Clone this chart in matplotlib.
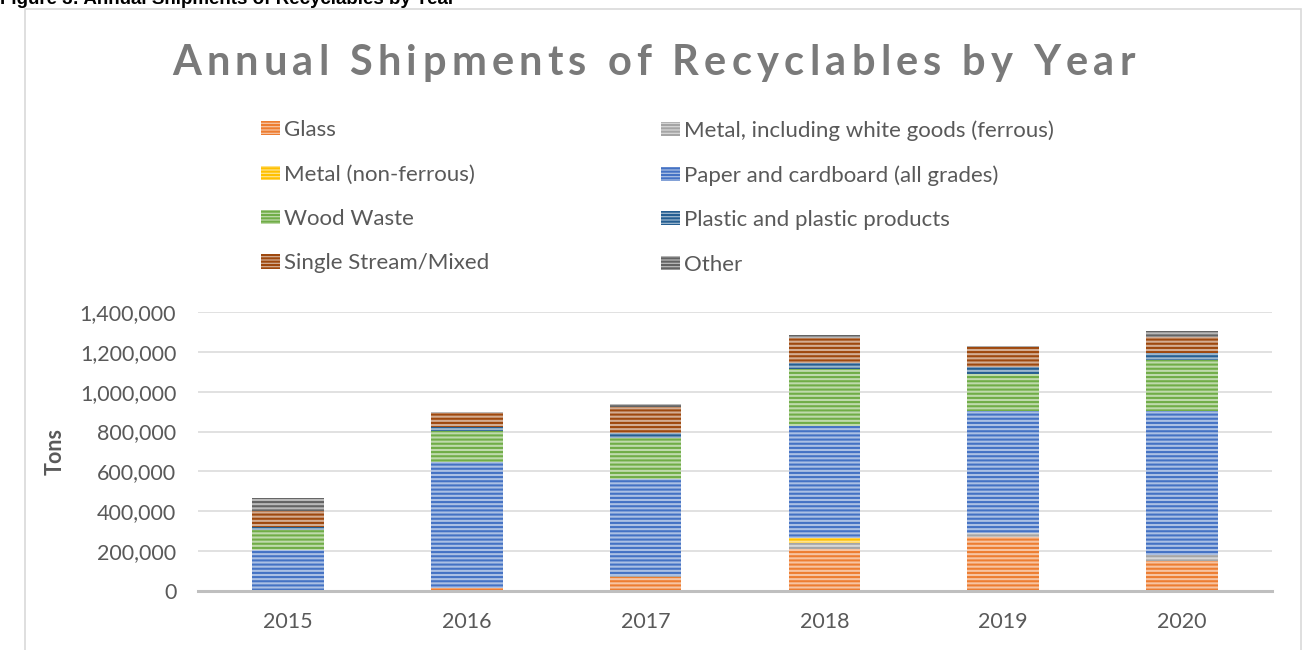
import matplotlib
matplotlib.use("Agg")
import matplotlib.pyplot as plt
from matplotlib.patches import Rectangle
from matplotlib.font_manager import FontProperties
from matplotlib.ticker import FuncFormatter
import numpy as np

# ---------------- data ----------------
years = ['2015', '2016', '2017', '2018', '2019', '2020']
glass = [0, 15000, 72000, 209000, 270000, 152000]
metal_ferrous = [5000, 0, 3000, 30000, 20000, 27000]
metal_nonferrous = [0, 0, 0, 25000, 0, 2000]
paper = [200000, 634000, 489000, 565000, 614000, 724000]
wood = [100000, 154000, 206000, 283000, 184000, 252000]
plastic = [17000, 20000, 21000, 33000, 35000, 37000]
single_stream = [79000, 69000, 134000, 125000, 100000, 80000]
other = [65000, 8000, 12000, 13000, 8000, 33000]

series_names = ['Glass', 'Metal, including white goods (ferrous)', 'Metal (non-ferrous)',
                'Paper and cardboard (all grades)', 'Wood Waste', 'Plastic and plastic products',
                'Single Stream/Mixed', 'Other']
series_values = [glass, metal_ferrous, metal_nonferrous, paper, wood, plastic, single_stream, other]
series_colors = ['#ED7D31', '#A5A5A5', '#FFC000', '#4472C4', '#70AD47', '#255E91', '#9E480E', '#636363']

title_text = 'Annual Shipments of Recyclables by Year'
caption_text = 'Figure 3: Annual Shipments of Recyclables by Year'

# ---------------- style ----------------
W, H = 1302, 650
plt.rcParams['font.family'] = ['Lato', 'DejaVu Sans']
plt.rcParams['hatch.linewidth'] = 1.5
TXT = '#595959'

def lighten(c, f):
    c = np.array(matplotlib.colors.to_rgb(c))
    return tuple(c + (1 - c) * f)

fig = plt.figure(figsize=(W / 100, H / 100), dpi=100)
ax = fig.add_axes([198.5 / W, 1 - 591 / H, (1271.5 - 198.5) / W, (591 - 312) / H])

x = np.arange(len(years))
bottom = np.zeros(len(years))
handles = []
for name, vals, col in zip(series_names, series_values, series_colors):
    vals = np.array(vals, dtype=float)
    ax.bar(x, vals, 0.40, bottom=bottom, facecolor=lighten(col, 0.55), edgecolor=col,
           hatch='----', linewidth=0, zorder=3)
    bottom += vals
    handles.append(Rectangle((0, 0), 1, 1, facecolor=lighten(col, 0.55), edgecolor=col,
                             hatch='-----', linewidth=0, label=name))

ax.set_xlim(-0.5, len(years) - 0.5)
ax.set_ylim(0, 1400000)
ax.set_yticks(np.arange(0, 1400001, 200000))
ax.yaxis.set_major_formatter(FuncFormatter(lambda v, p: f'{int(v):,}'))
ax.set_xticks(x)
ax.set_xticklabels(years)
ax.grid(axis='y', color='#d9d9d9', linewidth=1.1, zorder=0)
for s in ['top', 'right', 'left']:
    ax.spines[s].set_visible(False)
ax.spines['bottom'].set_color('#bfbfbf')
ax.spines['bottom'].set_linewidth(2.2)
ax.spines['bottom'].set_zorder(4)
ax.tick_params(axis='both', length=0, labelsize=15.5, labelcolor=TXT)
ax.tick_params(axis='y', pad=16)
ax.tick_params(axis='x', pad=15)
ax.set_ylabel('Tons', fontsize=15.5, fontweight='bold', color=TXT)
ax.yaxis.set_label_coords((66 - 198.5) / (1271.5 - 198.5), 0.5)

# legends (two columns)
col1 = [handles[i] for i in (0, 2, 4, 6)]
col2 = [handles[i] for i in (1, 3, 5, 7)]
leg_kw = dict(loc='upper left', frameon=False, fontsize=16, labelcolor=TXT,
              handlelength=0.85, handleheight=0.6, handletextpad=0.2,
              labelspacing=1.1, borderpad=0, borderaxespad=0,
              bbox_transform=fig.transFigure)
leg1 = fig.legend(handles=col1, bbox_to_anchor=(261 / W, 1 - 120 / H), **leg_kw)
leg2 = fig.legend(handles=col2, bbox_to_anchor=(661 / W, 1 - 120 / H), **leg_kw)

# chart border
fig.patches.append(Rectangle((24.5 / W, -0.01), (1300.5 - 24.5) / W, 1 - 8.5 / H + 0.01,
                             transform=fig.transFigure, facecolor='none',
                             edgecolor='#d9d9d9', linewidth=1.2))

# caption (cut off at top, as in the source page)
fig.text(0, 1 - 4 / H, caption_text, fontsize=13.5, fontweight='bold', color='black',
         family='Liberation Sans', va='baseline', ha='left')

# letter-spaced title
fig.canvas.draw()
r = fig.canvas.get_renderer()
fp = FontProperties(family='Lato', weight='bold', size=30)
w0 = r.get_text_width_height_descent('HH', fp, ismath=False)[0]
adv = [r.get_text_width_height_descent('H' + c + 'H', fp, ismath=False)[0] - w0 for c in title_text]
x0, x1 = 172, 1135
spacing = ((x1 - x0) - sum(adv[:-1]) - adv[-1]) / (len(title_text) - 1)
xp = x0
for c, a in zip(title_text, adv):
    if c != ' ':
        fig.text(xp / W, 1 - 75 / H, c, fontproperties=fp, color='#7a7a7a',
                 va='baseline', ha='left')
    xp += a + spacing

fig.savefig('out.png', dpi=100)
